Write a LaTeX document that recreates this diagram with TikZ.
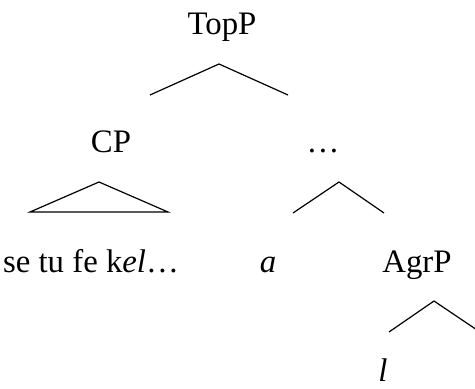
\documentclass[tikz,border=0pt]{standalone}
\usepackage{fontspec}
\setmainfont{Liberation Serif}
\begin{document}
\begin{tikzpicture}[x=0.5pt,y=-0.5pt,
  lbl/.style={anchor=base,inner sep=0pt,font=\fontsize{16.4}{19}\selectfont},
  branch/.style={draw,line width=0.6pt,line join=miter}]
\useasboundingbox (0,0) rectangle (475,389);
\node[lbl] (topp) at (222,35) {TopP};
\node[lbl] (cp) at (111,153) {CP};
\node[lbl] (dots) at (323,153) {…};
\node[lbl] (cptext) at (91,272) {se tu fe k\textit{el}…};
\node[lbl] (a) at (268,272) {\textit{a}};
\node[lbl] (agrp) at (417,272) {AgrP};
\node[lbl] (l) at (383,381) {\textit{l}};
% branch coordinates
\coordinate (t0) at (219,64);
\coordinate (t1) at (150,95);
\coordinate (t2) at (288,95);
\coordinate (c0) at (99,182);
\coordinate (c1) at (30,212);
\coordinate (c2) at (168,212);
\coordinate (d0) at (339,182);
\coordinate (d1) at (293,213);
\coordinate (d2) at (384,213);
\coordinate (g0) at (434,301);
\coordinate (g1) at (389,332);
\coordinate (g2) at (480,332);
\draw[branch] (t1) -- (t0) -- (t2);
\draw[branch] (c1) -- (c0) -- (c2) -- cycle;
\draw[branch] (d1) -- (d0) -- (d2);
\draw[branch] (g1) -- (g0) -- (g2);
\end{tikzpicture}
\end{document}
